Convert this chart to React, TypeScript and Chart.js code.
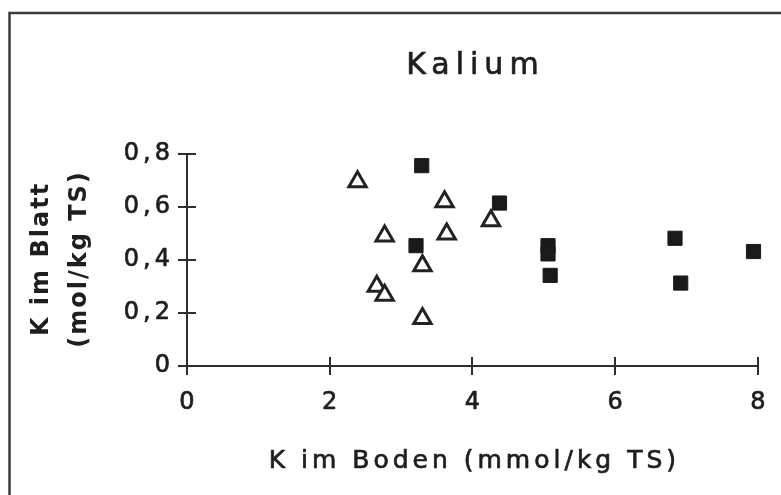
import React, { useEffect, useRef } from 'react';
import { Chart, registerables } from 'chart.js';

Chart.register(...registerables);

// ---- Data ----
const squaresX = [3.29, 4.38, 3.21, 5.06, 5.06, 5.09, 6.84, 6.92, 7.94];
const squaresY = [0.756, 0.615, 0.454, 0.454, 0.423, 0.342, 0.482, 0.313, 0.432];
const trianglesX = [2.39, 3.61, 4.26, 2.77, 3.64, 3.30, 2.66, 2.77, 3.30];
const trianglesY = [0.695, 0.620, 0.548, 0.491, 0.498, 0.378, 0.301, 0.267, 0.179];
const xTickLabels = ['0', '2', '4', '6', '8'];
const yTickLabels = ['0', '0,2', '0,4', '0,6', '0,8'];
const chartTitle = 'Kalium';
const xAxisTitle = 'K im Boden (mmol/kg TS)';
const yAxisTitle = ['K im Blatt', '(mol/kg TS)'];

const SANS = "'DejaVu Sans', sans-serif";
const TEXT = '#1e1e1e';
const AXIS = '#2e2e2e';

// letter spacing (and a slight stroke, like the scanned print) for canvas text
function addLetterSpacing(ctx: any) {
  if (ctx.__spaced) return;
  ctx.__spaced = true;
  const fill = ctx.fillText;
  const stroke = ctx.strokeText;
  const measure = ctx.measureText;
  const isBold = () => /bold|700/.test(ctx.font || '');
  const spacingFor = () => {
    const f: string = ctx.font || '';
    if (isBold()) return 2;
    const m = f.match(/(\d+(?:\.\d+)?)px/);
    const size = m ? parseFloat(m[1]) : 12;
    return size >= 28 ? 6 : 4;
  };
  ctx.fillText = function (text: string, x: number, y: number, maxWidth?: number) {
    const s = spacingFor();
    ctx.save();
    ctx.letterSpacing = s + 'px';
    const a = ctx.textAlign;
    const dx = a === 'center' ? s / 2 : a === 'right' || a === 'end' ? s : 0;
    if (maxWidth === undefined || maxWidth === null) fill.call(ctx, text, x + dx, y);
    else fill.call(ctx, text, x + dx, y, maxWidth);
    if (!isBold()) {
      ctx.strokeStyle = ctx.fillStyle;
      ctx.lineWidth = 0.7;
      ctx.lineJoin = 'round';
      if (maxWidth === undefined || maxWidth === null) stroke.call(ctx, text, x + dx, y);
      else stroke.call(ctx, text, x + dx, y, maxWidth);
    }
    ctx.restore();
  };
  ctx.measureText = function (text: string) {
    const prev = ctx.letterSpacing;
    ctx.letterSpacing = spacingFor() + 'px';
    const m = measure.call(ctx, text);
    ctx.letterSpacing = prev;
    return m;
  };
}

const framePlugin = {
  id: 'frame',
  beforeDraw(chart: any) {
    const { ctx, width, height } = chart;
    ctx.save();
    ctx.fillStyle = '#ffffff';
    ctx.fillRect(0, 0, width, height);
    ctx.strokeStyle = '#3a3a3a';
    ctx.lineWidth = 2.5;
    ctx.beginPath();
    ctx.moveTo(9.5, height + 10);
    ctx.lineTo(9.5, 13);
    ctx.lineTo(width + 10, 13);
    ctx.stroke();
    ctx.restore();
  },
};

const innerTicksPlugin = {
  id: 'innerTicks',
  beforeDatasetsDraw(chart: any) {
    const { ctx, chartArea: a, scales } = chart;
    const xs = scales.x;
    const ys = scales.y;
    ctx.save();
    ctx.strokeStyle = AXIS;
    ctx.lineWidth = 2;
    ctx.beginPath();
    xs.ticks.forEach((t: any) => {
      const px = Math.round(xs.getPixelForValue(t.value));
      ctx.moveTo(px, a.bottom);
      ctx.lineTo(px, a.bottom - 9);
    });
    ys.ticks.forEach((t: any) => {
      const py = Math.round(ys.getPixelForValue(t.value));
      ctx.moveTo(a.left, py);
      ctx.lineTo(a.left + 9, py);
    });
    ctx.stroke();
    ctx.restore();
  },
};

export default function App() {
  const ref = useRef<HTMLCanvasElement>(null);

  useEffect(() => {
    const canvas = ref.current;
    if (!canvas) return;
    const ctx = canvas.getContext('2d');
    if (!ctx) return;
    addLetterSpacing(ctx);

    const chart = new Chart(ctx, {
      type: 'scatter',
      data: {
        datasets: [
          {
            label: 'Quadrate',
            data: squaresX.map((x, i) => ({ x, y: squaresY[i] })),
            pointStyle: 'rect',
            pointRadius: 10,
            pointHoverRadius: 10,
            backgroundColor: '#1a1a1a',
            borderColor: '#1a1a1a',
            borderWidth: 1,
            clip: false,
          },
          {
            label: 'Dreiecke',
            data: trianglesX.map((x, i) => ({ x, y: trianglesY[i] })),
            pointStyle: 'triangle',
            pointRadius: 10,
            pointHoverRadius: 10,
            backgroundColor: '#ffffff',
            borderColor: '#222222',
            borderWidth: 3,
            clip: false,
          },
        ],
      },
      options: {
        responsive: false,
        animation: false,
        devicePixelRatio: 1,
        layout: { padding: { top: 12, right: 20, bottom: 0, left: 0 } },
        plugins: {
          legend: { display: false },
          tooltip: { enabled: false },
          title: {
            display: true,
            text: chartTitle,
            fullSize: false,
            color: TEXT,
            font: { family: SANS, size: 30, weight: 'normal', lineHeight: 1.2 },
            padding: { top: 36.5, bottom: 69.5 },
          },
        },
        scales: {
          x: {
            type: 'linear',
            min: 0,
            max: 8,
            border: { display: true, color: AXIS, width: 2 },
            grid: { drawOnChartArea: false, drawTicks: true, tickLength: 9, color: AXIS, lineWidth: 2 },
            ticks: {
              stepSize: 2,
              color: TEXT,
              font: { family: SANS, size: 24 },
              padding: 13.6,
              maxRotation: 0,
              autoSkip: false,
              callback: (v: any, i: number) => xTickLabels[i] ?? String(v),
            },
            title: {
              display: true,
              text: xAxisTitle,
              color: TEXT,
              font: { family: SANS, size: 25 },
              padding: { top: 0, bottom: 19 },
            },
            afterFit: (s: any) => {
              s.height = 129;
            },
          },
          y: {
            type: 'linear',
            min: 0,
            max: 0.8,
            border: { display: true, color: AXIS, width: 2 },
            grid: { drawOnChartArea: false, drawTicks: true, tickLength: 9, color: AXIS, lineWidth: 2 },
            ticks: {
              stepSize: 0.2,
              color: TEXT,
              font: { family: SANS, size: 24 },
              padding: 8,
              autoSkip: false,
              callback: (v: any, i: number) => yTickLabels[i] ?? String(v),
            },
            title: {
              display: true,
              text: yAxisTitle,
              color: TEXT,
              font: { family: SANS, size: 24, weight: 'bold', lineHeight: 38 / 24 },
              padding: { top: 22.5, bottom: 0 },
            },
            afterFit: (s: any) => {
              s.width = 187;
            },
          },
        },
      },
      plugins: [framePlugin, innerTicksPlugin],
    } as any);

    return () => chart.destroy();
  }, []);

  return (
    <div style={{ position: 'absolute', left: 0, top: 0, width: 781, height: 495, overflow: 'hidden' }}>
      <canvas ref={ref} width={781} height={495} style={{ display: 'block' }} />
    </div>
  );
}
